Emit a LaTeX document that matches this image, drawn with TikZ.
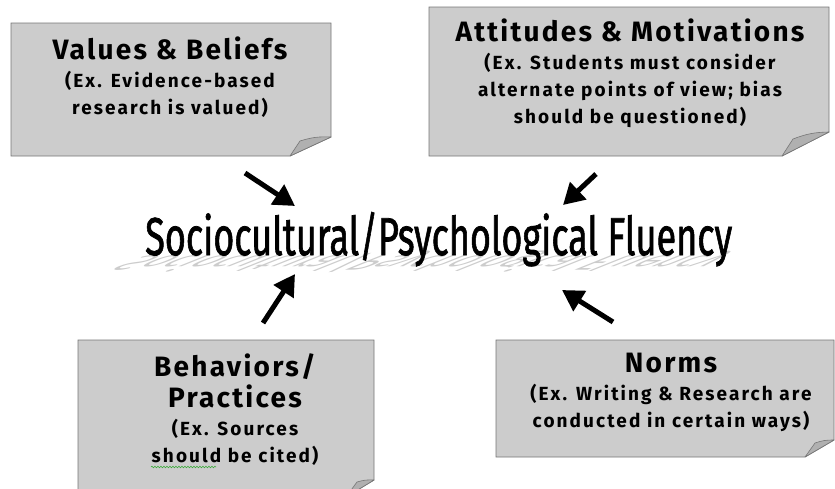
\documentclass[tikz,border=0pt]{standalone}
\usepackage{fontspec}
\setmainfont{Fira Sans}
\newfontfamily\titlefont{Fira Sans}
\definecolor{NoteGray}{RGB}{204, 204, 204}
\definecolor{EdgeGray}{RGB}{118, 118, 118}
\definecolor{PeelGray}{RGB}{176, 176, 176}
\definecolor{ShadowGray}{RGB}{204, 204, 204}
\definecolor{SpellGreen}{RGB}{60, 170, 60}
\usetikzlibrary{arrows.meta, positioning, calc, decorations.pathmorphing}

\newcommand{\headfont}{\fontsize{28}{34}\selectfont\bfseries\addfontfeatures{LetterSpace=8}}
\newcommand{\subfont}{\fontsize{19}{27}\selectfont\bfseries\addfontfeatures{LetterSpace=11}}

% sticky note: left, top, right, bottom, fold foot x, fold tip x, fold tip y, fold end y
\newcommand{\stickynote}[8]{%
    \filldraw[notebox] (#1,#2) -- (#3,#2) -- (#3,#8) -- (#5,#4) -- (#1,#4) -- cycle;
    \filldraw[peel] (#5,#4) -- (#6,#7) to[bend left=10] (#3,#8) -- cycle;
}

\begin{document}
\begin{tikzpicture}[x=1pt, y=-1pt,
        notebox/.style={fill=NoteGray, draw=EdgeGray, line width=0.9pt},
        peel/.style={fill=PeelGray, draw=EdgeGray, line width=0.6pt, line join=round},
        notetext/.style={align=center, anchor=north, inner sep=0pt, font=\subfont},
        bigarrow/.style={-{Triangle[length=21pt, width=23pt]}, line width=5pt}]
    \useasboundingbox (0,0) rectangle (835,488);

    % Sticky notes
    \stickynote{11}{23}{331}{156}{290}{300}{141}{137}
    \stickynote{429}{7}{829}{156}{782}{793}{139}{132}
    \stickynote{78}{340}{374}{497}{346}{357}{482}{480}
    \stickynote{496}{340}{834}{457}{805}{815}{443}{440}

    % Note texts
    \node[notetext] (values) at (170,37) {{\headfont Values \& Beliefs}\\[1pt]
        (Ex. Evidence-based\\ research is valued)};
    \node[notetext] (attitudes) at (630,19) {{\headfont Attitudes \& Motivations}\\[1pt]
        (Ex. Students must consider\\ alternate points of view; bias\\ should be questioned)};
    \node[notetext] (behaviors) at (235,353) {{\headfont Behaviors/}\\[4pt] {\headfont Practices}\\[1pt]
        (Ex. Sources\\ should be cited)};
    \node[notetext] (norms) at (671,353) {{\headfont Norms}\\[1pt]
        (Ex. Writing \& Research are\\ conducted in certain ways)};

    % spell check squiggle
    \draw[SpellGreen, line width=0.6pt, decorate, decoration={snake, amplitude=0.8pt, segment length=3pt}]
        (151,467) -- (216,467);

    % Title with its shadow
    \begin{scope}[shift={(145,255)}, cm={1,0,-1.0,-0.4,(0,0)}]
        \node[anchor=base west, inner sep=0pt, transform shape, text=ShadowGray] (shadow) at (0,0)
            {\resizebox{587pt}{43pt}{\titlefont Sociocultural/Psychological Fluency}};
    \end{scope}
    \node[anchor=base west, inner sep=0pt] (title) at (145,255)
        {\resizebox{587pt}{43pt}{\titlefont\addfontfeatures{FakeBold=1.5} Sociocultural/Psychological Fluency}};

    % Arrows towards the title
    \coordinate (valuesTail) at (245,173);
    \coordinate (valuesTip) at (295,206);
    \coordinate (attitudesTail) at (596,174);
    \coordinate (attitudesTip) at (563,205);
    \coordinate (behaviorsTail) at (263,323);
    \coordinate (behaviorsTip) at (295,274);
    \coordinate (normsTail) at (613,322);
    \coordinate (normsTip) at (562,290);
    \foreach \n in {values, attitudes, behaviors, norms} {
        \draw[bigarrow] (\n Tail) -- (\n Tip);
    }
\end{tikzpicture}
\end{document}
